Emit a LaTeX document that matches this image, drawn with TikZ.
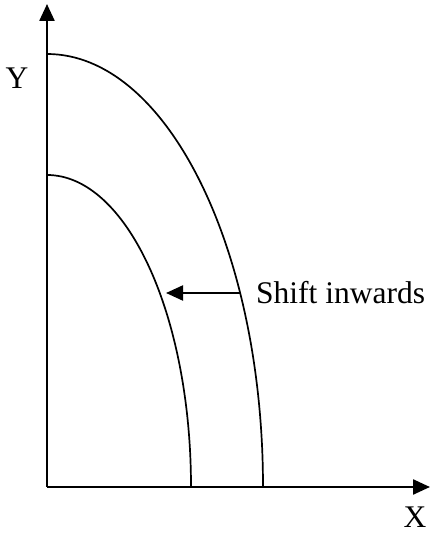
\documentclass[tikz,border=0pt]{standalone}
\usepackage{fontspec}
\setmainfont{Liberation Serif}
\usetikzlibrary{arrows.meta}
\tikzset{
  axis/.style={line width=2.4pt, -{Triangle[length=17pt,width=15pt]}},
  curve/.style={line width=1.7pt},
  shiftarrow/.style={line width=2.2pt, -{Triangle[length=17pt,width=15pt]}},
  lbl/.style={font=\fontsize{31.5}{36}\selectfont, inner sep=0pt}
}
\begin{document}
\begin{tikzpicture}[x=1pt, y=1pt]
    \useasboundingbox (0,0) rectangle (430,533);

    % Axes
    \coordinate (origin) at (47,46);
    \coordinate (ytop) at (47,529);
    \coordinate (xend) at (430,46);
    \draw[axis] (origin) -- (ytop);
    \draw[axis] (origin) -- (xend);
    \node[lbl] (ylabel) at (17,455) {Y};
    \node[lbl] (xlabel) at (415,16) {X};

    % Curves
    \draw[curve] (47,479) arc[start angle=90, end angle=0, x radius=216, y radius=433];
    \draw[curve] (47,358) arc[start angle=90, end angle=0, x radius=144, y radius=312];

    % Shift arrow
    \coordinate (outerpt) at (240,240);
    \coordinate (innerpt) at (166,240);
    \draw[shiftarrow] (outerpt) -- (innerpt);
    \node[lbl, anchor=west] (shift) at (256,240) {Shift inwards};
\end{tikzpicture}
\end{document}
